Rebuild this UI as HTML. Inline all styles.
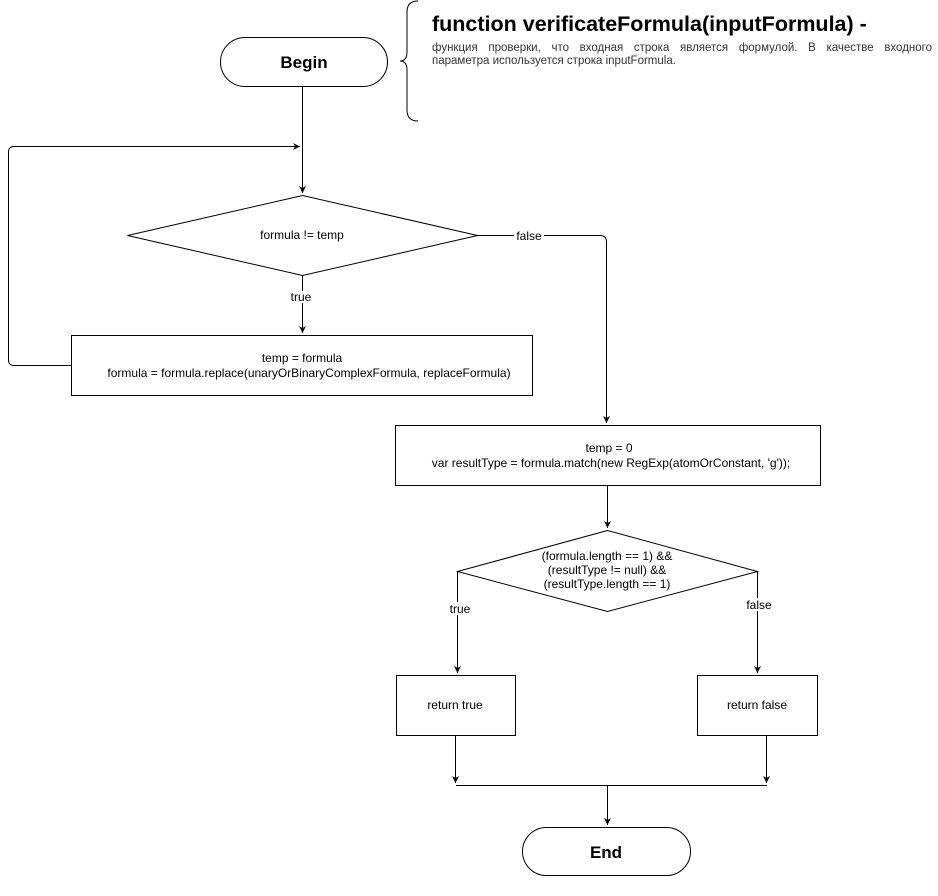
<!DOCTYPE html>
<html><head><meta charset="utf-8"><style>
html,body{margin:0;padding:0;background:#fff;}
body{position:relative;width:938px;height:896px;overflow:hidden;}
svg{display:block;font-family:"Liberation Sans",Arial,sans-serif;}
.t{font-size:12px;fill:#000;text-anchor:middle;}
.d{position:absolute;left:432px;width:500px;font-family:"Liberation Sans",Arial,sans-serif;font-size:11.5px;line-height:13px;color:#333;white-space:nowrap;}
#d1{top:42px;text-align:justify;text-align-last:justify;white-space:normal;}
#d2{top:55px;}
</style></head><body>
<svg width="938" height="896" viewBox="0 0 938 896" xmlns="http://www.w3.org/2000/svg">
<defs><marker id="a" markerWidth="8" markerHeight="8" refX="7" refY="4" orient="auto" markerUnits="userSpaceOnUse"><path d="M0,0.5 L7,4 L0,7.5 L2,4 Z" fill="#000"/></marker></defs>
<g fill="none" stroke="#000" stroke-width="1">
<rect x="220.5" y="37.5" width="167" height="49" rx="24.5" fill="#fff"/>
<path d="M418,1 Q407,1 407,12 L407,52 Q407,61 400,61 Q407,61 407,70 L407,110 Q407,121 418,121"/>
<line x1="302.5" y1="86" x2="302.5" y2="193" marker-end="url(#a)"/>
<path d="M71,365.5 L14,365.5 Q8.5,365.5 8.5,360 L8.5,152 Q8.5,146.5 14,146.5 L300,146.5" marker-end="url(#a)"/>
<polygon points="302.5,195.5 127.5,235.5 302.5,275.5 477.5,235.5" fill="#fff"/>
<line x1="302.5" y1="275" x2="302.5" y2="333" marker-end="url(#a)"/>
<rect x="71.5" y="335.5" width="461" height="60" fill="#fff"/>
<path d="M477,235.5 L600,235.5 Q606.5,235.5 606.5,242 L606.5,423" marker-end="url(#a)"/>
<rect x="395.5" y="425.5" width="425" height="60" fill="#fff"/>
<line x1="607.5" y1="485" x2="607.5" y2="528" marker-end="url(#a)"/>
<polygon points="607.5,530.5 457.5,571.5 607.5,611.5 757.5,571.5" fill="#fff"/>
<line x1="457.5" y1="571" x2="457.5" y2="673" marker-end="url(#a)"/>
<line x1="757.5" y1="571" x2="757.5" y2="673" marker-end="url(#a)"/>
<rect x="396.5" y="675.5" width="119" height="60" fill="#fff"/>
<rect x="697.5" y="675.5" width="120" height="60" fill="#fff"/>
<line x1="455.5" y1="735" x2="455.5" y2="783" marker-end="url(#a)"/>
<line x1="766.5" y1="735" x2="766.5" y2="783" marker-end="url(#a)"/>
<line x1="456" y1="785.5" x2="767" y2="785.5"/>
<line x1="607.5" y1="785" x2="607.5" y2="825" marker-end="url(#a)"/>
<rect x="522.5" y="827.5" width="168" height="48" rx="24" fill="#fff"/>
</g>
<text x="304" y="68" style="font-size:17px;font-weight:bold" text-anchor="middle">Begin</text>
<text x="606" y="858" style="font-size:17px;font-weight:bold" text-anchor="middle">End</text>
<text x="432" y="31" style="font-size:21.5px;font-weight:bold">function verificateFormula(inputFormula) -</text>
<text class="t" x="302" y="239">formula != temp</text>
<rect x="289" y="291" width="26" height="12" fill="#fff"/>
<text class="t" x="301" y="301">true</text>
<text class="t" x="302" y="362">temp = formula</text>
<text class="t" x="309" y="377">formula = formula.replace(unaryOrBinaryComplexFormula, replaceFormula)</text>
<rect x="514" y="229" width="30" height="13" fill="#fff"/>
<text class="t" x="529" y="240">false</text>
<text class="t" x="609" y="452">temp = 0</text>
<text class="t" x="611" y="467">var resultType = formula.match(new RegExp(atomOrConstant, 'g'));</text>
<text class="t" x="607" y="560">(formula.length == 1) &amp;&amp;</text>
<text class="t" x="607" y="574">(resultType != null) &amp;&amp;</text>
<text class="t" x="607" y="588">(resultType.length == 1)</text>
<rect x="447" y="602" width="26" height="13" fill="#fff"/>
<text class="t" x="460" y="613">true</text>
<rect x="744" y="598" width="30" height="13" fill="#fff"/>
<text class="t" x="759" y="609">false</text>
<text class="t" x="455" y="709">return true</text>
<text class="t" x="757" y="709">return false</text>
</svg>
<div class="d" id="d1">функция проверки, что входная строка является формулой. В качестве входного</div>
<div class="d" id="d2">параметра используется строка inputFormula.</div>
</body></html>
